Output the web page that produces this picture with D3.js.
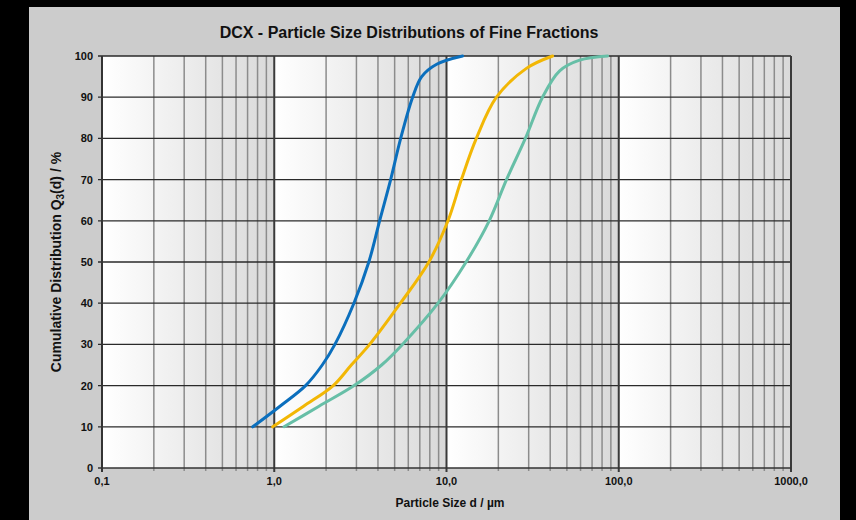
<!DOCTYPE html>
<html><head><meta charset="utf-8">
<script src="https://cdn.jsdelivr.net/npm/d3@7"></script>
<style>
html,body{margin:0;padding:0;background:#000;}
svg{display:block;font-family:"Liberation Sans",Arial,sans-serif;}
</style></head>
<body>
<svg id="chart" width="856" height="520"></svg>
<script>
// Data (particle size d in µm, cumulative distribution %)
const blueY   = [10,15,20,25,30,40,50,60,70,80,90,95,98,100];
const blueX   = [0.75,1.08,1.52,1.90,2.25,2.90,3.54,4.09,4.74,5.42,6.36,7.18,8.77,12.4];
const yellowY = [10,15,20,25,30,40,50,60,70,80,90,97,100];
const yellowX = [0.98,1.48,2.20,2.80,3.58,5.40,7.90,10.2,12.2,14.9,19.5,29.1,41.3];
const tealY   = [10,15,20,25,30,40,50,60,70,80,90,96.4,99,100];
const tealX   = [1.14,1.82,2.91,4.20,5.55,8.93,13.0,17.7,22.3,28.7,36.1,45.4,59.3,86.2];
const xTicks = [0.1,1,10,100,1000];
const xTickLabels = ["0,1","1,0","10,0","100,0","1000,0"];
const yTicks = [0,10,20,30,40,50,60,70,80,90,100];

const series = [
  {x: blueX, y: blueY, color: "#0b6fbd"},
  {x: yellowX, y: yellowY, color: "#f2b705"},
  {x: tealX, y: tealY, color: "#67bfa7"}
];

const svg = d3.select("#chart");
svg.append("rect").attr("x",0).attr("y",0).attr("width",856).attr("height",520).attr("fill","#000");
svg.append("rect").attr("x",29).attr("y",7).attr("width",811).attr("height",513).attr("fill","#cccccc");

const L=102, R=791, T=56, B=468;
const x = d3.scaleLog().domain([0.1,1000]).range([L,R]);
const y = d3.scaleLinear().domain([0,100]).range([B,T]);

const defs = svg.append("defs");
const grad = defs.append("linearGradient").attr("id","dec").attr("x1","0").attr("x2","1").attr("y1","0").attr("y2","0");
grad.append("stop").attr("offset","0").attr("stop-color","#ffffff");
grad.append("stop").attr("offset","1").attr("stop-color","#d9d9d9");
defs.append("clipPath").attr("id","clip").append("rect").attr("x",L).attr("y",T-4).attr("width",R-L).attr("height",B-T+8);

// decade backgrounds
const decades = [0.1,1,10,100];
svg.selectAll("rect.dec").data(decades).enter().append("rect")
  .attr("x",d=>x(d)).attr("y",T).attr("width",d=>x(d*10)-x(d)).attr("height",B-T)
  .attr("fill","url(#dec)");

// minor vertical grid
const minors = [];
decades.forEach(d=>{for(let k=2;k<=9;k++) minors.push(d*k);});
svg.selectAll("line.minor").data(minors).enter().append("line")
  .attr("x1",d=>x(d)).attr("x2",d=>x(d)).attr("y1",T).attr("y2",B+3)
  .attr("stroke","#8c8c8c").attr("stroke-width",1.5);

// horizontal grid
svg.selectAll("line.h").data(yTicks.slice(1)).enter().append("line")
  .attr("x1",L-4).attr("x2",R).attr("y1",d=>y(d)).attr("y2",d=>y(d))
  .attr("stroke","#2a2a2a").attr("stroke-width",1.3);

// major vertical grid
svg.selectAll("line.major").data(xTicks).enter().append("line")
  .attr("x1",d=>x(d)).attr("x2",d=>x(d)).attr("y1",T).attr("y2",B+4)
  .attr("stroke","#3a3a3a").attr("stroke-width",2);

// axis lines
svg.append("line").attr("x1",L-4).attr("x2",R).attr("y1",B).attr("y2",B).attr("stroke","#333").attr("stroke-width",1.6);
svg.append("line").attr("x1",L).attr("x2",L).attr("y1",T).attr("y2",B+4).attr("stroke","#333").attr("stroke-width",1.6);

// curves
const line = d3.line().x(d=>x(d[0])).y(d=>y(d[1])).curve(d3.curveCatmullRom.alpha(0.5));
const g = svg.append("g").attr("clip-path","url(#clip)");
series.forEach(s=>{
  const pts = s.x.map((v,i)=>[v,s.y[i]]);
  g.append("path").attr("d",line(pts)).attr("fill","none").attr("stroke",s.color)
   .attr("stroke-width",3).attr("stroke-linecap","round").attr("stroke-linejoin","round");
});

// tick labels
svg.selectAll("text.yt").data(yTicks).enter().append("text")
  .attr("x",L-9).attr("y",d=>y(d)+4).attr("text-anchor","end")
  .attr("font-size",11).attr("font-weight","bold").attr("fill","#111").text(d=>d);
svg.selectAll("text.xt").data(xTicks).enter().append("text")
  .attr("x",d=>x(d)).attr("y",B+17).attr("text-anchor","middle")
  .attr("font-size",11).attr("font-weight","bold").attr("fill","#111")
  .text((d,i)=>xTickLabels[i]);

// titles
svg.append("text").attr("x",409).attr("y",38).attr("text-anchor","middle")
  .attr("font-size",16).attr("font-weight","bold").attr("fill","#111")
  .text("DCX - Particle Size Distributions of Fine Fractions");
svg.append("text").attr("x",450).attr("y",507).attr("text-anchor","middle")
  .attr("font-size",12).attr("font-weight","bold").attr("fill","#111")
  .text("Particle Size d / µm");
const yt = svg.append("text").attr("transform","translate(61,262) rotate(-90)")
  .attr("text-anchor","middle").attr("font-size",14).attr("font-weight","bold").attr("fill","#111");
yt.append("tspan").text("Cumulative Distribution Q");
yt.append("tspan").attr("font-size",10).attr("dy",3).text("3");
yt.append("tspan").attr("dy",-3).text("(d) / %");
</script>
</body></html>
